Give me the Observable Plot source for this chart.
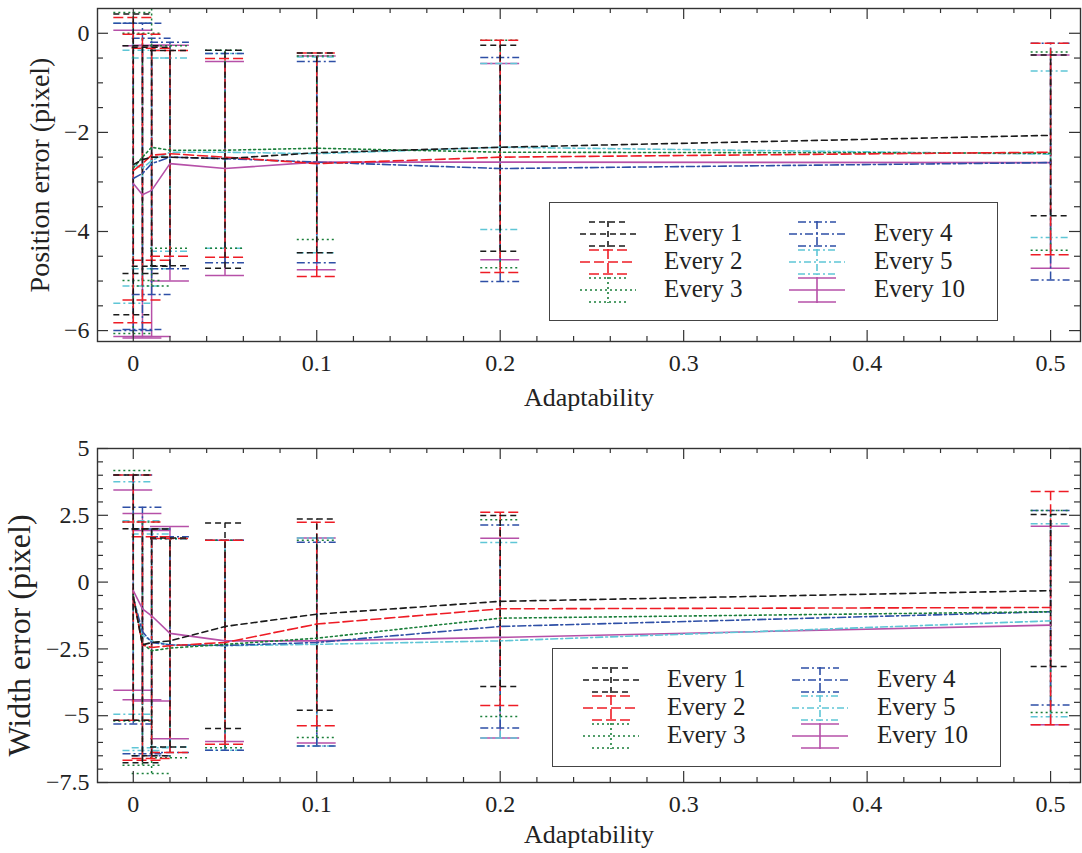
<!DOCTYPE html>
<html><head><meta charset="utf-8">
<script src="https://cdn.jsdelivr.net/npm/d3@7"></script>
<script src="https://cdn.jsdelivr.net/npm/@observablehq/plot@0.6"></script>
<style>
body{margin:0;background:#fff;}
#wrap{position:relative;width:1082px;height:853px;font-family:"Liberation Serif","Times New Roman",serif;overflow:hidden;}
#wrap svg.plot{display:block;}
.legend{position:absolute;border:1.3px solid #444;background:#fff;box-sizing:border-box;}
.legend .lab{position:absolute;font-size:25px;color:#222;line-height:28px;white-space:nowrap;}
.legend svg{position:absolute;overflow:visible;}
</style></head><body><div id="wrap"></div>
<script>
// ---------- data ----------
const adaptability = [0, 0.005, 0.01, 0.02, 0.05, 0.1, 0.2, 0.5];
const seriesNames = ["Every 1", "Every 2", "Every 3", "Every 4", "Every 5", "Every 10"];
const xTickValues = [0, 0.1, 0.2, 0.3, 0.4, 0.5];
const posTickValues = [0, -2, -4, -6];
const widthTickValues = [5, 2.5, 0, -2.5, -5, -7.5];

// Position error (pixel): mean, upper cap, lower cap
const posMeanE1 = [-2.65, -2.55, -2.5, -2.5, -2.53, -2.41, -2.3, -2.06];
const posHiE1   = [0.39, -0.25, -0.28, -0.35, -0.34, -0.4, -0.24, -0.44];
const posLoE1   = [-5.68, -4.85, -4.7, -4.69, -4.74, -4.43, -4.4, -3.68];
const posMeanE2 = [-2.77, -2.63, -2.46, -2.43, -2.5, -2.63, -2.5, -2.4];
const posHiE2   = [0.32, -0.02, -0.3, -0.35, -0.51, -0.4, -0.14, -0.2];
const posLoE2   = [-5.84, -5.38, -4.58, -4.5, -4.52, -4.91, -4.83, -4.47];
const posMeanE3 = [-2.72, -2.5, -2.3, -2.36, -2.36, -2.32, -2.4, -2.42];
const posHiE3   = [0.42, 0.0, 0.52, -0.25, -0.34, -0.46, -0.14, -0.38];
const posLoE3   = [-6.06, -4.99, -5.1, -4.34, -4.34, -4.16, -4.73, -4.38];
const posMeanE4 = [-2.93, -2.83, -2.63, -2.5, -2.53, -2.6, -2.73, -2.61];
const posHiE4   = [0.2, 0.2, -0.1, -0.18, -0.41, -0.57, -0.49, -0.2];
const posLoE4   = [-6.0, -5.98, -5.27, -4.75, -4.63, -4.63, -5.01, -4.98];
const posMeanE5 = [-2.65, -2.72, -2.57, -2.4, -2.4, -2.43, -2.3, -2.44];
const posHiE5   = [0.2, -0.34, -0.5, -0.5, -0.41, -0.48, -0.61, -0.76];
const posLoE5   = [-5.45, -5.1, -4.75, -4.4, -4.34, -4.43, -3.96, -4.12];
const posMeanE10 = [-3.03, -3.26, -3.17, -2.63, -2.73, -2.6, -2.6, -2.61];
const posHiE10   = [0.06, -0.25, -0.24, -0.24, -0.57, -0.46, -0.61, -0.44];
const posLoE10   = [-6.12, -6.15, -6.12, -5.0, -4.89, -4.77, -4.57, -4.74];

// Width error (pixel)
const widMeanE1 = [-0.55, -2.35, -2.26, -2.2, -1.66, -1.2, -0.72, -0.32];
const widHiE1   = [4.01, 2.0, 1.99, 1.65, 2.21, 2.36, 2.49, 2.53];
const widLoE1   = [-5.17, -6.76, -6.5, -6.17, -5.48, -4.8, -3.91, -3.16];
const widMeanE2 = [-0.55, -2.35, -2.45, -2.38, -2.26, -1.57, -1.0, -0.95];
const widHiE2   = [4.01, 2.25, 1.7, 1.63, 1.57, 2.24, 2.61, 3.39];
const widLoE2   = [-5.17, -6.67, -6.6, -6.38, -6.07, -5.38, -4.62, -5.34];
const widMeanE3 = [-0.5, -2.3, -2.57, -2.47, -2.33, -2.1, -1.35, -1.11];
const widHiE3   = [4.18, 2.25, 2.0, 1.63, 1.57, 1.57, 2.33, 2.68];
const widLoE3   = [-5.2, -6.85, -7.16, -6.57, -6.2, -5.82, -5.03, -4.88];
const widMeanE4 = [-0.6, -1.85, -2.26, -2.35, -2.37, -2.26, -1.66, -1.11];
const widHiE4   = [4.01, 2.8, 1.99, 1.7, 1.57, 1.49, 2.14, 2.68];
const widLoE4   = [-5.31, -6.42, -6.5, -6.38, -6.29, -6.13, -5.46, -4.6];
const widMeanE5 = [-0.55, -2.0, -2.2, -2.35, -2.38, -2.33, -2.2, -1.45];
const widHiE5   = [3.76, 2.3, 1.8, 1.6, 1.57, 1.65, 1.48, 2.18];
const widLoE5   = [-4.95, -6.3, -6.2, -6.17, -6.29, -6.13, -5.83, -5.04];
const widMeanE10 = [-0.32, -1.0, -1.26, -1.92, -2.2, -2.2, -2.07, -1.61];
const widHiE10   = [3.45, 2.57, 1.93, 2.08, 1.57, 1.65, 1.64, 2.09];
const widLoE10   = [-4.05, -4.4, -4.45, -5.86, -5.97, -6.02, -5.83, -5.34];

// ---------- styles ----------
const seriesColors = ["#1a1a1a", "#ee1c25", "#1a7f3a", "#2e4fa6", "#5fc6d6", "#b650a8"];
const seriesDash = ["6,4", "10,4", "2,3", "8,3,2,3", "7,3,2,3", null];

const posSeries = [
  [posMeanE1, posHiE1, posLoE1], [posMeanE2, posHiE2, posLoE2], [posMeanE3, posHiE3, posLoE3],
  [posMeanE4, posHiE4, posLoE4], [posMeanE5, posHiE5, posLoE5], [posMeanE10, posHiE10, posLoE10]
];
const widSeries = [
  [widMeanE1, widHiE1, widLoE1], [widMeanE2, widHiE2, widLoE2], [widMeanE3, widHiE3, widLoE3],
  [widMeanE4, widHiE4, widLoE4], [widMeanE5, widHiE5, widLoE5], [widMeanE10, widHiE10, widLoE10]
];

const W = 1082, ML = 97, MR = 2;
const capHalf = 0.0106;
const fontFam = "'Liberation Serif','Times New Roman',serif";
const fmt = d => (d < 0 ? "\u2212" : "") + String(Math.abs(d));

function makePanel(opts) {
  const {height, marginTop, marginBottom, yDomain, yTicks, yMinor, series, yLabel, yLabelDx, yLabelDy, yLabelSize, xLabelDy} = opts;
  const fh = height - marginTop - marginBottom;
  const fw = W - ML - MR;
  const marks = [];
  const order = [5, 4, 3, 2, 1, 0];
  for (const i of order) {
    const [mean, hi, lo] = series[i];
    const rows = adaptability.map((x, j) => ({x, mean: mean[j], hi: hi[j], lo: lo[j]}));
    const st = {stroke: seriesColors[i], strokeWidth: 1.5, strokeDasharray: seriesDash[i] || undefined, clip: true};
    marks.push(Plot.ruleX(rows, {x: "x", y1: "lo", y2: "hi", ...st}));
    marks.push(Plot.ruleY(rows, {y: "hi", x1: d => d.x - capHalf, x2: d => d.x + capHalf, ...st}));
    marks.push(Plot.ruleY(rows, {y: "lo", x1: d => d.x - capHalf, x2: d => d.x + capHalf, ...st}));
  }
  for (const i of order) {
    const [mean] = series[i];
    const rows = adaptability.map((x, j) => ({x, mean: mean[j]}));
    marks.push(Plot.line(rows, {x: "x", y: "mean", stroke: seriesColors[i], strokeWidth: 1.6,
      strokeDasharray: seriesDash[i] || undefined, clip: true}));
  }
  const xMinor = d3.range(0.02, 0.5, 0.02).filter(v => Math.abs(v * 10 - Math.round(v * 10)) > 1e-6);
  const tk = {stroke: "#333", strokeWidth: 1.2};
  marks.push(Plot.ruleX(xTickValues, {x: d => d, insetTop: fh - 11, ...tk}));
  marks.push(Plot.ruleX(xTickValues, {x: d => d, insetBottom: fh - 11, ...tk}));
  marks.push(Plot.ruleX(xMinor, {x: d => d, insetTop: fh - 5, ...tk}));
  marks.push(Plot.ruleX(xMinor, {x: d => d, insetBottom: fh - 5, ...tk}));
  marks.push(Plot.ruleY(yTicks, {y: d => d, insetRight: fw - 11, ...tk}));
  marks.push(Plot.ruleY(yTicks, {y: d => d, insetLeft: fw - 11, ...tk}));
  marks.push(Plot.ruleY(yMinor, {y: d => d, insetRight: fw - 6, ...tk}));
  marks.push(Plot.ruleY(yMinor, {y: d => d, insetLeft: fw - 6, ...tk}));
  marks.push(Plot.frame({stroke: "#333", strokeWidth: 1.4}));
  marks.push(Plot.axisX(xTickValues, {tickSize: 0, tickPadding: 12, fontSize: 24, fill: "#222", label: null, tickFormat: fmt}));
  marks.push(Plot.axisY(yTicks, {tickSize: 0, tickPadding: 8, fontSize: 24, fill: "#222", label: null, tickFormat: fmt}));
  marks.push(Plot.text(["Adaptability"], {text: d => d, frameAnchor: "bottom", dy: xLabelDy, fontSize: 26, fill: "#222"}));
  marks.push(Plot.text([yLabel], {text: d => d, frameAnchor: "left", textAnchor: "middle", dx: yLabelDx, dy: yLabelDy,
    rotate: -90, fontSize: yLabelSize, fill: "#222"}));
  return Plot.plot({
    width: W, height, marginTop, marginBottom, marginLeft: ML, marginRight: MR,
    style: {fontFamily: fontFam, background: "#fff", overflow: "visible"},
    x: {domain: [-0.0195, 0.5163], axis: null},
    y: {domain: yDomain, axis: null},
    marks
  });
}

const wrap = document.getElementById("wrap");
const panelTop = makePanel({
  height: 420, marginTop: 8, marginBottom: 79, yDomain: [-6.22, 0.5],
  yTicks: posTickValues, yMinor: d3.range(-6, 0.5, 0.5).filter(v => v % 2 !== 0),
  series: posSeries, yLabel: "Position error (pixel)", yLabelDx: -57, yLabelDy: 0, yLabelSize: 28, xLabelDy: 64
});
const panelBottom = makePanel({
  height: 433, marginTop: 28, marginBottom: 71, yDomain: [-7.5, 5],
  yTicks: widthTickValues, yMinor: d3.range(-7, 5, 0.5).filter(v => Math.abs(v / 2.5 - Math.round(v / 2.5)) > 1e-6),
  series: widSeries, yLabel: "Width error (pixel)", yLabelDx: -78, yLabelDy: 20, yLabelSize: 32, xLabelDy: 60
});
panelTop.classList.add("plot"); panelBottom.classList.add("plot");
wrap.appendChild(panelTop);
wrap.appendChild(panelBottom);

// ---------- legends ----------
function addLegend(left, topPx) {
  const box = document.createElement("div");
  box.className = "legend";
  Object.assign(box.style, {left: left + "px", top: topPx + "px", width: "449px", height: "119px"});
  const rowY = [31, 59, 87];
  seriesNames.forEach((name, i) => {
    const col = i < 3 ? 0 : 1;
    const row = i % 3;
    const sx = col === 0 ? 58 : 267;
    const tx = col === 0 ? 114 : 324;
    const cy = rowY[row];
    const dash = seriesDash[i] ? `stroke-dasharray="${seriesDash[i]}"` : "";
    const c = seriesColors[i];
    const svg = `<svg width="60" height="30" style="left:${sx - 30}px;top:${cy - 15}px">
      <g stroke="${c}" stroke-width="1.6" ${dash} fill="none">
      <line x1="2" x2="58" y1="15" y2="15"/>
      <line x1="30" x2="30" y1="2" y2="28"/>
      <line x1="11" x2="49" y1="3" y2="3"/>
      <line x1="11" x2="49" y1="27" y2="27"/></g></svg>`;
    box.insertAdjacentHTML("beforeend", svg);
    const lab = document.createElement("div");
    lab.className = "lab";
    lab.textContent = name;
    Object.assign(lab.style, {left: tx + "px", top: (cy - 15) + "px"});
    box.appendChild(lab);
  });
  wrap.appendChild(box);
}
addLegend(549, 202);
addLegend(552, 648);
</script></body></html>
